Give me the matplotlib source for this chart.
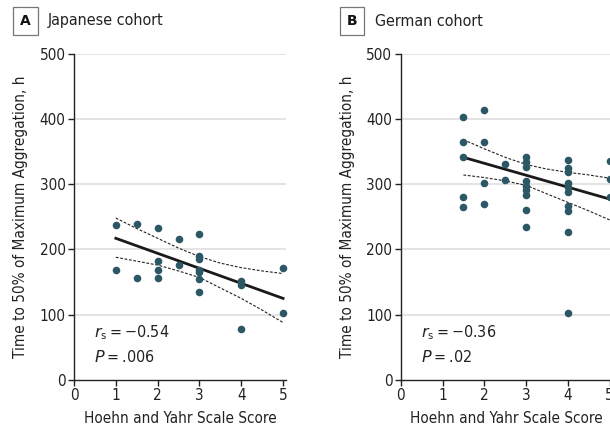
import numpy as np
import matplotlib
matplotlib.use("Agg")
import matplotlib.pyplot as plt

# Panel A: Japanese cohort
ja_x = [1, 1, 1.5, 1.5, 2, 2, 2, 2, 2.5, 2.5, 3, 3, 3, 3, 3, 3, 3, 4, 4, 4, 5, 5]
ja_y = [238, 168, 239, 156, 233, 182, 169, 156, 216, 176, 224, 190, 185, 169,
        165, 155, 134, 151, 145, 78, 171, 103]
ja_fit_x = [1, 5]
ja_fit_y = [217, 125]
ja_ci_x = [1, 1.5, 2, 2.5, 3, 3.5, 4, 4.5, 5]
ja_ci_hi = [248, 232, 217, 202, 189, 179, 172, 167, 163]
ja_ci_lo = [188, 182, 176, 167, 157, 141, 125, 107, 88]

# Panel B: German cohort
de_x = [1.5] * 5 + [2] * 4 + [2.5] * 2 + [3] * 9 + [4] * 10 + [5] * 3
de_y = [403, 365, 341, 281, 265,
        413, 365, 302, 270,
        331, 306,
        341, 334, 326, 305, 297, 291, 284, 261, 234,
        337, 324, 318, 302, 295, 288, 267, 259, 227, 103,
        336, 308, 281]
de_fit_x = [1.5, 5]
de_fit_y = [341, 277]
de_ci_x = [1.5, 2, 2.5, 3, 3.5, 4, 4.5, 5]
de_ci_hi = [368, 354, 341, 330, 323, 318, 314, 309]
de_ci_lo = [314, 310, 305, 298, 285, 272, 259, 245]

TEAL = "#2c5866"
FONT = dict(family="DejaVu Sans", stretch="condensed")

fig = plt.figure(figsize=(6.10, 4.29), dpi=100)
W, H = 610, 429


def panel(left_px, letter, title, xs, ys, fx, fy, cx, chi, clo, rs, p):
    ax = fig.add_axes([left_px / W, (H - 380) / H, 212 / W, 326.5 / H])
    ax.set_xlim(0, 5.07)
    ax.set_ylim(0, 500)
    ax.set_xticks(range(6))
    ax.set_yticks(range(0, 501, 100))
    for v in range(100, 501, 100):
        ax.axhline(v, color="#dcdcdc", lw=1.1, zorder=0)
    for s in ("top", "right"):
        ax.spines[s].set_visible(False)
    for s in ("left", "bottom"):
        ax.spines[s].set_color("#222222")
        ax.spines[s].set_linewidth(1.0)
    ax.tick_params(direction="out", length=4, width=1.0, color="#222222",
                   labelsize=11, labelcolor="#222222", pad=2)
    for lab in ax.get_xticklabels() + ax.get_yticklabels():
        lab.set_fontstretch("condensed")

    ax.plot(cx, chi, color="#222222", lw=0.8, ls=(0, (2.5, 1.5)), zorder=2)
    ax.plot(cx, clo, color="#222222", lw=0.8, ls=(0, (2.5, 1.5)), zorder=2)
    ax.plot(fx, fy, color="#1a1a1a", lw=2.0, zorder=3)
    ax.scatter(xs, ys, s=30, color=TEAL, linewidths=0, zorder=4, clip_on=False)

    ax.set_xlabel("Hoehn and Yahr Scale Score", fontsize=11, color="#222222", **FONT)
    ax.xaxis.set_label_coords(0.5, -0.119)
    ax.xaxis.label.set_va("center")
    ax.set_ylabel("Time to 50% of Maximum Aggregation, h", fontsize=11,
                  color="#222222", **FONT)
    ax.yaxis.set_label_coords(-0.25, 0.5)
    ax.yaxis.label.set_va("center")

    ax.text(0.095, 0.144, r"$r_\mathregular{s}$" + f"\u2009=\u2009{rs}",
            transform=ax.transAxes, fontsize=11.5, color="#222222", va="center", **FONT)
    ax.text(0.095, 0.07, r"$P$" + f"\u2009=\u2009{p}",
            transform=ax.transAxes, fontsize=11.5, color="#222222", va="center", **FONT)

    bx = (left_px - 48.5) / W
    fig.text(bx, (H - 21) / H, letter, fontsize=10, fontweight="bold",
             color="#111111", ha="center", va="center",
             bbox=dict(boxstyle="square,pad=0.5", fc="white", ec="#777777", lw=0.9))
    fig.text((left_px - 26) / W, (H - 21) / H, title, fontsize=11.5,
             color="#222222", ha="left", va="center", **FONT)
    return ax


panel(74, "A", "Japanese cohort", ja_x, ja_y, ja_fit_x, ja_fit_y,
      ja_ci_x, ja_ci_hi, ja_ci_lo, "\u22120.54", ".006")
panel(400.7, "B", "German cohort", de_x, de_y, de_fit_x, de_fit_y,
      de_ci_x, de_ci_hi, de_ci_lo, "\u22120.36", ".02")

fig.savefig("out.png", dpi=100)
